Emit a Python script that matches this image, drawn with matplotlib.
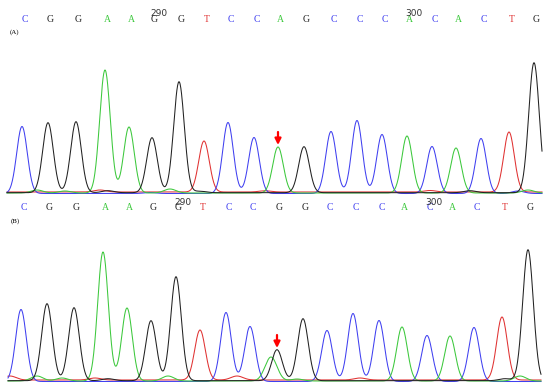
import numpy as np
import matplotlib.pyplot as plt
from matplotlib.transforms import blended_transform_factory

# base calls, peak positions (scan units) and peak heights
bases_a = list("CGGAAGGTCCAGCCCACACTG")
pos_a = [22, 48, 76, 105, 129, 152, 179, 204, 228, 254, 278, 304, 331, 357,
         382, 407, 432, 456, 481, 509, 534]
height_a = [67, 70, 71, 123, 66, 55, 111, 51, 71, 56, 46, 46, 62, 73,
            59, 57, 47, 45, 55, 60, 130]

bases_b = list("CGGAAGGTCCGGCCCACACTG")
pos_b = [21, 47, 74, 103, 127, 151, 176, 200, 226, 250, 277, 303, 327, 353,
         379, 402, 427, 450, 474, 502, 528]
height_b = [72, 77, 73, 129, 73, 60, 104, 50, 69, 55, 31, 62, 51, 68,
            61, 54, 46, 45, 54, 63, 131]

# secondary and background peaks: (base, position, height)
minor_a = [("A", 37, 3), ("A", 65, 2), ("A", 170, 4), ("G", 108, 2),
           ("G", 200, 1.5), ("T", 100, 2), ("T", 265, 1.2), ("T", 430, 1.5),
           ("C", 150, 1), ("G", 470, 2), ("C", 518, 2.5), ("A", 528, 3)]
minor_b = [("A", 271, 24), ("A", 37, 5), ("A", 62, 3), ("A", 168, 5),
           ("A", 297, 2), ("A", 520, 5), ("T", 10, 4), ("T", 95, 2),
           ("T", 237, 4), ("T", 360, 2), ("G", 108, 2), ("G", 505, 2)]

span_a = (7, 542)
span_b = (8, 541)

# base numbering: label -> index of the base call it sits on
ticks_a = {"290": 5, "300": 15}
ticks_b = {"290": 6, "300": 16}
mutation_idx = 10

colors = {"A": "#3cc83c", "C": "#4040f0", "G": "#222222", "T": "#e03232"}
base_offset = {"A": 0.0, "C": -0.5, "G": 0.3, "T": 1.0}
SIGMA = 5.3
SIGMA_MINOR = 6.0


def draw_panel(ax, bases, pos, height, minor, span, ticks, letter_y, tag, tag_y):
    x = np.linspace(span[0], span[1], 1500)
    for b in "TCAG":
        y = np.full_like(x, base_offset[b])
        for bb, p, h in zip(bases, pos, height):
            if bb == b:
                y += h * np.exp(-(x - p) ** 2 / (2 * SIGMA ** 2))
        for bb, p, h in minor:
            if bb == b:
                y += h * np.exp(-(x - p) ** 2 / (2 * SIGMA_MINOR ** 2))
        ax.plot(x, y, color=colors[b], lw=0.75, clip_on=False)

    trans = blended_transform_factory(ax.transData, ax.figure.transFigure)
    for bb, p in zip(bases, pos):
        ax.text(p + 2.5, letter_y, bb, color=colors[bb], transform=trans,
                ha="center", va="center", fontsize=7, family="Liberation Serif")
    for lab, i in ticks.items():
        ax.text(pos[i] + 7, letter_y + 0.014, lab, color="#333333",
                transform=trans, ha="center", va="center", fontsize=6.5)
    ax.text(15, tag_y, tag, transform=trans, ha="center", va="center",
            fontsize=5, family="Liberation Serif")

    # red arrow over the mutated position
    p = pos[mutation_idx]
    h = height[mutation_idx]
    ax.annotate("", xy=(p, h + 2), xytext=(p, h + 15),
                arrowprops=dict(arrowstyle="-|>", color="red", lw=1.6,
                                mutation_scale=9, shrinkA=0, shrinkB=0))

    ax.set_xlim(0, 550)
    ax.set_xticks([])
    ax.set_yticks([])
    ax.axis("off")


fig = plt.figure(figsize=(5.5, 3.9), dpi=100)
ax_a = fig.add_axes([0, 1 - 197 / 390, 1, 142 / 390])
ax_a.set_ylim(-4, 138)
ax_b = fig.add_axes([0, 1 - 385 / 390, 1, 140 / 390])
ax_b.set_ylim(-4, 136)

draw_panel(ax_a, bases_a, pos_a, height_a, minor_a, span_a, ticks_a,
           1 - 19 / 390, "(A)", 1 - 32 / 390)
draw_panel(ax_b, bases_b, pos_b, height_b, minor_b, span_b, ticks_b,
           1 - 208 / 390, "(B)", 1 - 221 / 390)

fig.savefig("out.png", dpi=100)
